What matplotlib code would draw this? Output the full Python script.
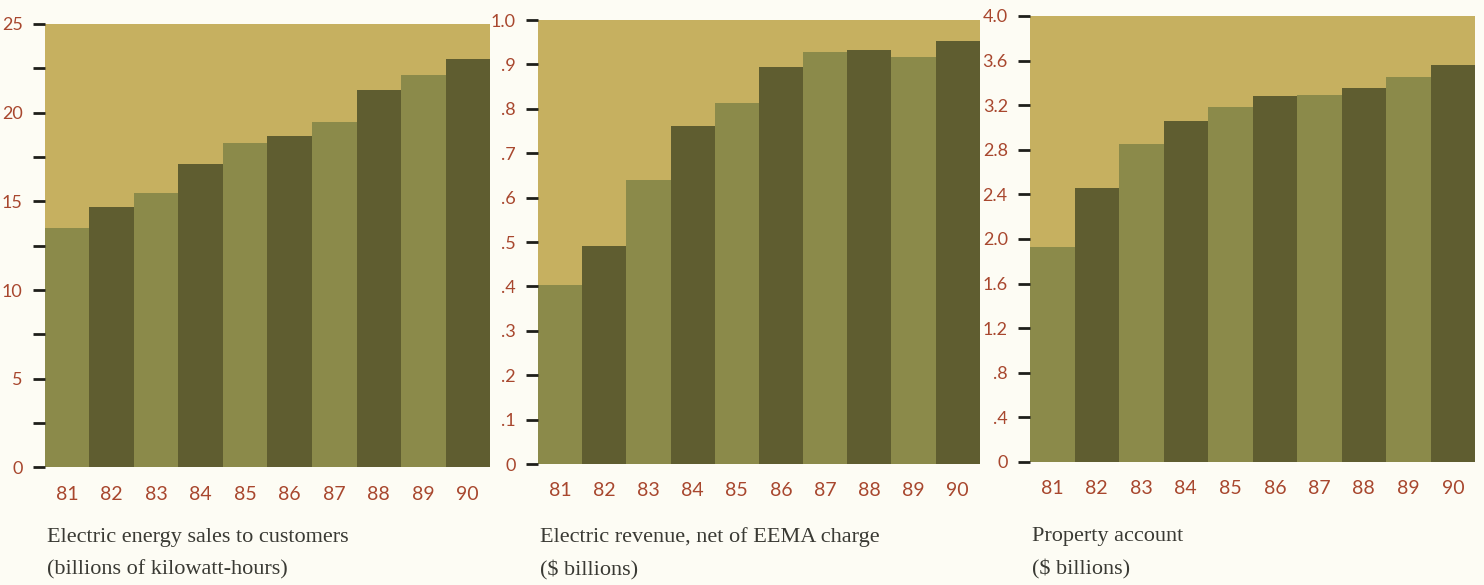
import matplotlib.pyplot as plt
import numpy as np

years = ['81', '82', '83', '84', '85', '86', '87', '88', '89', '90']

energy_sales = [13.5, 14.7, 15.5, 17.1, 18.3, 18.7, 19.5, 21.3, 22.1, 23.0]
revenue = [0.403, 0.491, 0.64, 0.762, 0.814, 0.895, 0.929, 0.932, 0.917, 0.953]
property_acct = [1.93, 2.455, 2.85, 3.056, 3.18, 3.28, 3.29, 3.354, 3.45, 3.56]

energy_ticks = [0, 5, 10, 15, 20, 25]
energy_minor = [2.5, 7.5, 12.5, 17.5, 22.5]
revenue_ticks = [0, .1, .2, .3, .4, .5, .6, .7, .8, .9, 1.0]
revenue_labels = ['0', '.1', '.2', '.3', '.4', '.5', '.6', '.7', '.8', '.9', '1.0']
property_ticks = [0, .4, .8, 1.2, 1.6, 2.0, 2.4, 2.8, 3.2, 3.6, 4.0]
property_labels = ['0', '.4', '.8', '1.2', '1.6', '2.0', '2.4', '2.8', '3.2', '3.6', '4.0']

captions = [
    'Electric energy sales to customers\n(billions of kilowatt-hours)',
    'Electric revenue, net of EEMA charge\n($ billions)',
    'Property account\n($ billions)',
]

paper = '#fdfcf4'
panel_bg = '#c6b060'
light_bar = '#8b8a4a'
dark_bar = '#5f5d30'
label_red = '#a8472e'
caption_col = '#3a3a34'

fig = plt.figure(figsize=(14.84, 5.85), dpi=100, facecolor=paper)

boxes = [
    [0.0303, 0.2009, 0.2999, 0.7581],
    [0.3625, 0.2068, 0.2978, 0.7590],
    [0.6941, 0.2103, 0.2999, 0.7624],
]
series = [energy_sales, revenue, property_acct]
ylims = [25, 1.0, 4.0]

x = np.arange(len(years))
bar_colors = [light_bar if i % 2 == 0 else dark_bar for i in range(len(years))]

for k, (box, vals, top) in enumerate(zip(boxes, series, ylims)):
    ax = fig.add_axes(box)
    ax.set_facecolor(panel_bg)
    ax.bar(x, vals, width=1.0, color=bar_colors, linewidth=0)
    ax.set_xlim(-0.5, len(years) - 0.5)
    ax.set_ylim(0, top)
    for s in ax.spines.values():
        s.set_visible(False)

    ax.set_xticks(x)
    ax.set_xticklabels(years, fontfamily='Lato', fontsize=14, color=label_red)
    ax.tick_params(axis='x', length=0, pad=13)

    if k == 0:
        ax.set_yticks(energy_ticks)
        ax.set_yticklabels([str(t) for t in energy_ticks])
        ax.set_yticks(energy_minor, minor=True)
    elif k == 1:
        ax.set_yticks(revenue_ticks)
        ax.set_yticklabels(revenue_labels)
    else:
        ax.set_yticks(property_ticks)
        ax.set_yticklabels(property_labels)
    for lab in ax.get_yticklabels():
        lab.set_fontfamily('Lato')
        lab.set_fontsize(13)
        lab.set_color(label_red)
    ax.tick_params(axis='y', which='both', direction='out', length=9,
                   width=2, color='#1e1e1a', pad=7)

    fig.text(box[0] + 0.0015, 0.054, captions[k], ha='left', va='center',
             fontfamily='Liberation Serif', fontsize=16, color=caption_col,
             linespacing=1.9)

fig.savefig('out.png', dpi=100, facecolor=paper)
